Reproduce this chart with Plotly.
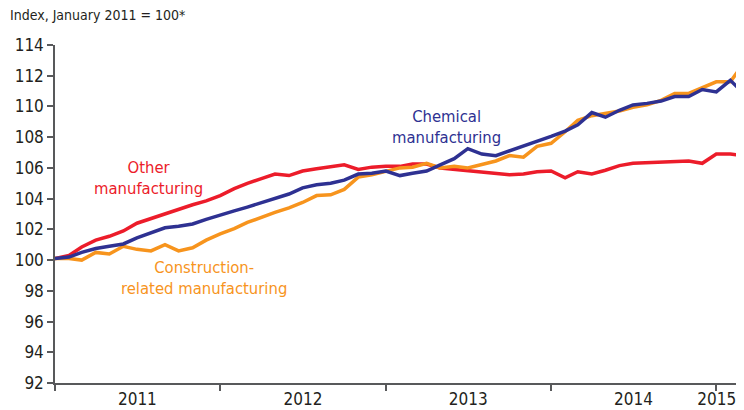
import pandas as pd
import plotly.graph_objects as go

# Monthly index values, Jan 2011 .. Mar 2015 (Jan 2011 = 100)
months = pd.date_range("2011-01-01", periods=51, freq="MS")

other_mfg = [100.1, 100.3, 100.85, 101.3, 101.55, 101.9, 102.4, 102.7, 103.05, 103.3,
             103.6, 103.85, 104.2, 104.65, 105.0, 105.3, 105.6, 105.5, 105.8, 105.95,
             106.05, 106.2, 105.9, 106.05, 106.1, 106.1, 106.25, 106.25, 106.0, 105.9,
             105.8, 105.75, 105.65, 105.55, 105.6, 105.75, 105.8, 105.35, 105.75, 105.6,
             105.85, 106.15, 106.3, 106.35, 106.4, 106.45, 106.45, 106.3, 106.9, 106.9,
             106.8]

chemical_mfg = [100.1, 100.2, 100.5, 100.75, 100.9, 101.05, 101.45, 101.8, 102.1, 102.2,
                102.35, 102.65, 102.95, 103.2, 103.45, 103.75, 104.0, 104.3, 104.7, 104.9,
                105.0, 105.2, 105.6, 105.65, 105.8, 105.5, 105.65, 105.8, 106.2, 106.6,
                107.25, 106.9, 106.8, 107.1, 107.4, 107.75, 108.05, 108.4, 108.8, 109.6,
                109.3, 109.75, 110.1, 110.2, 110.35, 110.65, 110.65, 111.1, 110.95, 111.7,
                110.9]

construction_mfg = [100.1, 100.1, 100.0, 100.5, 100.4, 100.9, 100.7, 100.6, 101.0, 100.6,
                    100.8, 101.3, 101.7, 102.05, 102.45, 102.8, 103.1, 103.4, 103.75, 104.2,
                    104.25, 104.6, 105.4, 105.55, 105.8, 106.0, 106.05, 106.3, 106.0, 106.1,
                    106.0, 106.2, 106.45, 106.8, 106.7, 107.4, 107.6, 108.35, 109.1, 109.4,
                    109.55, 109.7, 109.95, 110.1, 110.4, 110.85, 110.85, 111.2, 111.6, 111.6,
                    112.75]

year_labels = ["2011", "2012", "2013", "2014", "2015"]
year_label_pos = ["2011-07-02", "2012-07-02", "2013-07-02", "2014-07-02", "2015-01-02"]
year_bounds = ["2011-01-01", "2012-01-01", "2013-01-01", "2014-01-01", "2015-01-01"]
y_ticks = list(range(92, 115, 2))

RED = "#EC1C2A"
BLUE = "#2E3192"
ORANGE = "#F7941D"
AXIS = "#58595B"
TEXT = "#231F20"
FONT = "Liberation Sans Narrow, DejaVu Sans Condensed, sans-serif"

fig = go.Figure()
fig.add_trace(go.Scatter(x=months, y=other_mfg, mode="lines",
                         line=dict(color=RED, width=3.5), name="Other manufacturing"))
fig.add_trace(go.Scatter(x=months, y=construction_mfg, mode="lines",
                         line=dict(color=ORANGE, width=3.5), name="Construction-related manufacturing"))
fig.add_trace(go.Scatter(x=months, y=chemical_mfg, mode="lines",
                         line=dict(color=BLUE, width=3.5), name="Chemical manufacturing"))

annos = [
    dict(x="2011-07-27", y=105.37, text="Other<br>manufacturing", color=RED),
    dict(x="2013-05-16", y=108.69, text="Chemical<br>manufacturing", color=BLUE),
    dict(x="2011-11-26", y=98.86, text="Construction-<br>related manufacturing", color=ORANGE),
]
for a in annos:
    fig.add_annotation(x=a["x"], y=a["y"], text=a["text"], showarrow=False,
                       xref="x", yref="y", xanchor="center", yanchor="middle",
                       align="center", font=dict(family=FONT, size=16.5, color=a["color"]))

# page body has an 8px default margin, so the figure is 8px smaller than the window
fig.update_layout(
    width=736, height=402,
    margin=dict(l=46.5, r=1, t=37, b=27),
    paper_bgcolor="white", plot_bgcolor="white",
    showlegend=False,
    font=dict(family=FONT, size=17, color=TEXT),
    title=dict(text="Index, January 2011 = 100*", x=2 / 736, xanchor="left",
               y=1 - 7 / 402, yanchor="middle",
               font=dict(family=FONT, size=14, color=TEXT)),
    xaxis=dict(
        type="date",
        range=["2011-01-01", "2015-03-01"],
        tickmode="array", tickvals=year_label_pos, ticktext=year_labels,
        ticks="", ticklen=0, ticklabeloverflow="allow",
        showline=True, linecolor=AXIS, linewidth=1.5,
        showgrid=False, zeroline=False,
        tickfont=dict(family=FONT, size=17, color=TEXT),
        minor=dict(tickmode="array", tickvals=year_bounds, ticks="outside",
                   ticklen=6, tickwidth=1.5, tickcolor=AXIS, showgrid=False),
    ),
    yaxis=dict(
        range=[92, 114],
        tickmode="array", tickvals=y_ticks,
        ticks="outside", ticklen=6, tickwidth=1.5, tickcolor=AXIS,
        showline=True, linecolor=AXIS, linewidth=1.5,
        showgrid=False, zeroline=False,
        tickfont=dict(family=FONT, size=17, color=TEXT),
    ),
)

fig.write_html("out.html")
